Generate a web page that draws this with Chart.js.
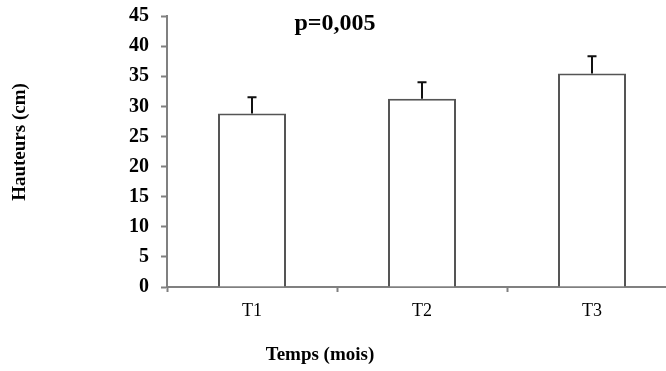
<!DOCTYPE html>
<html>
<head>
<meta charset="utf-8">
<script src="https://cdn.jsdelivr.net/npm/chart.js@4"></script>
<style>
  html, body { margin: 0; padding: 0; background: #fff; overflow: hidden; }
  #wrap { width: 684px; height: 371px; }
</style>
</head>
<body>
<div id="wrap"><canvas id="heightChart"></canvas></div>
<script>
// Data
const categories = ['T1', 'T2', 'T3'];
const heights = [28.8, 31.25, 35.45];
const errors = [2.7, 2.75, 2.85];   // upper error (SD)
const yTicks = [0, 5, 10, 15, 20, 25, 30, 35, 40, 45];
const pLabel = 'p=0,005';

const serif = '"Liberation Serif", "Times New Roman", serif';

// Draws the upward error bars from the data arrays
const errorBars = {
    id: 'errorBars',
    afterDatasetsDraw(chart) {
        const ctx = chart.ctx;
        const y = chart.scales.y;
        const meta = chart.getDatasetMeta(0);
        ctx.save();
        ctx.strokeStyle = '#111';
        ctx.lineWidth = 2;
        meta.data.forEach((bar, i) => {
            const top = y.getPixelForValue(heights[i] + errors[i]);
            ctx.beginPath();
            ctx.moveTo(bar.x, bar.y);
            ctx.lineTo(bar.x, top);
            ctx.moveTo(bar.x - 4.5, top);
            ctx.lineTo(bar.x + 4.5, top);
            ctx.stroke();
        });
        ctx.restore();
    }
};

// Titles and p-value placed like the original figure
const labels = {
    id: 'labels',
    afterDraw(chart) {
        const ctx = chart.ctx;
        ctx.save();
        ctx.fillStyle = '#000';
        ctx.textAlign = 'center';
        ctx.textBaseline = 'middle';
        ctx.font = 'bold 24px ' + serif;
        ctx.fillText(pLabel, 335, 24);
        ctx.font = 'bold 19px ' + serif;
        ctx.fillText('Temps (mois)', 320, 355);
        ctx.translate(20, 142);
        ctx.rotate(-Math.PI / 2);
        ctx.fillText('Hauteurs (cm)', 0, 0);
        ctx.restore();
    }
};

const ctx = document.getElementById('heightChart').getContext('2d');
new Chart(ctx, {
    type: 'bar',
    data: {
        labels: categories,
        datasets: [{
            data: heights,
            backgroundColor: '#fff',
            borderColor: '#555',
            borderWidth: 2,
            barPercentage: 0.4,
            categoryPercentage: 1
        }]
    },
    options: {
        responsive: true,
        maintainAspectRatio: false,
        animation: false,
        layout: { padding: { top: 16, right: 7, left: 0, bottom: 0 } },
        plugins: { legend: { display: false }, tooltip: { enabled: false } },
        scales: {
            x: {
                afterFit: (axis) => { axis.height = 84; axis.paddingLeft = 0; axis.paddingRight = 0; },
                border: { display: true, color: '#808080', width: 2 },
                grid: { offset: true, drawOnChartArea: false, tickLength: 5, tickColor: '#808080', tickWidth: 2 },
                ticks: { color: '#000', padding: 8, font: { family: serif, size: 18 } }
            },
            y: {
                min: 0,
                max: 45,
                afterFit: (axis) => { axis.width = 167; axis.paddingTop = 0; axis.paddingBottom = 0; },
                afterBuildTicks: (axis) => { axis.ticks = yTicks.map(v => ({ value: v })); },
                border: { display: true, color: '#808080', width: 2 },
                grid: { drawOnChartArea: false, tickLength: 6, tickColor: '#808080', tickWidth: 2 },
                ticks: { color: '#000', padding: 12, font: { family: serif, size: 20, weight: 'bold' } }
            }
        }
    },
    plugins: [errorBars, labels]
});
</script>
</body>
</html>
